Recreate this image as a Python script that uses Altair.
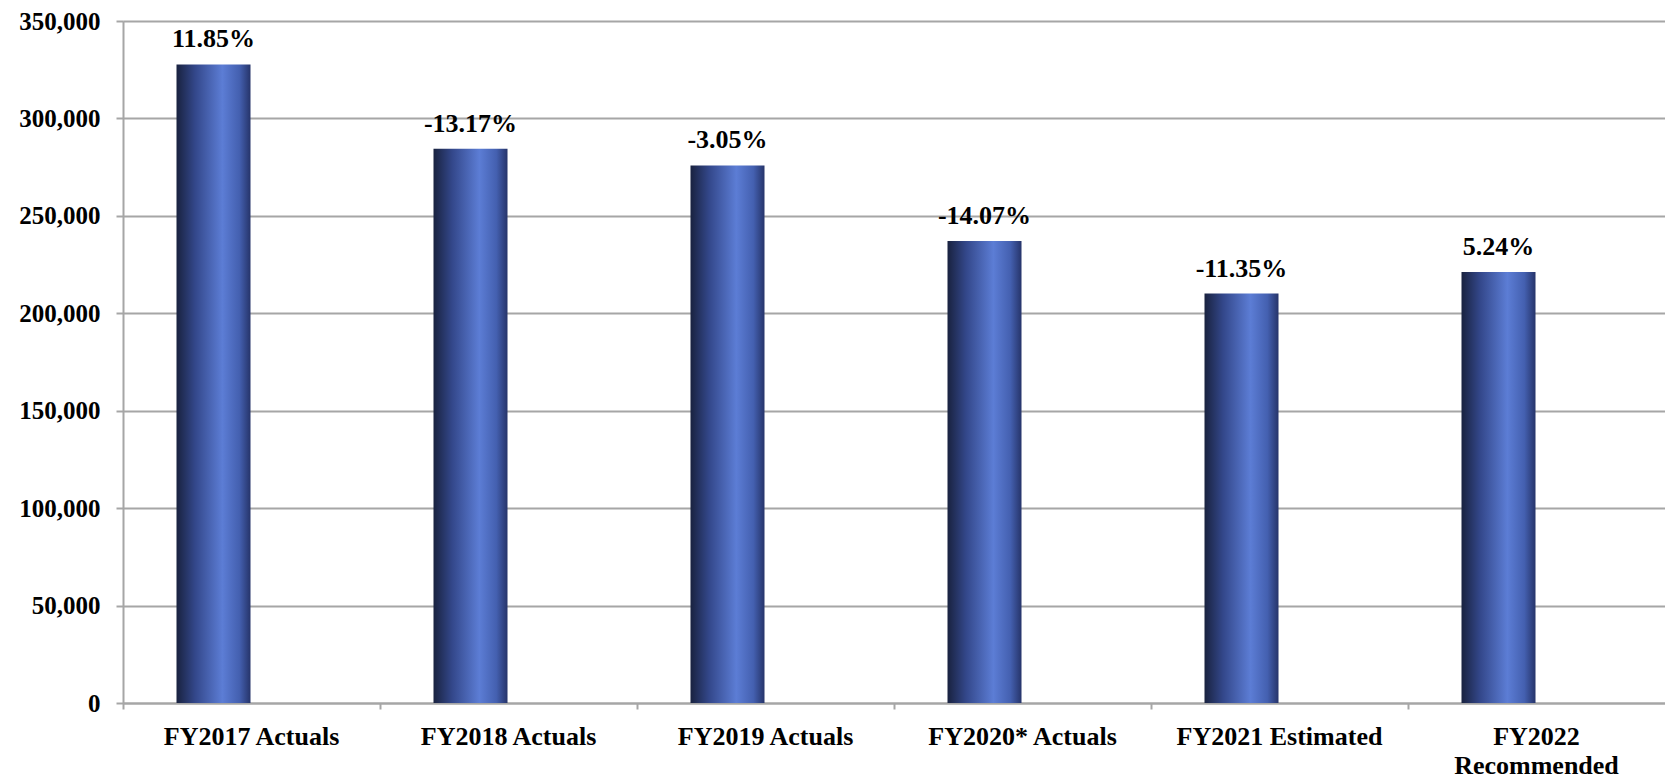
import altair as alt
import pandas as pd

categories = ["FY2017 Actuals", "FY2018 Actuals", "FY2019 Actuals",
              "FY2020* Actuals", "FY2021 Estimated", "FY2022 Recommended"]
values = [327700, 284500, 275900, 237050, 210150, 221150]
pct_labels = ["11.85%", "-13.17%", "-3.05%", "-14.07%", "-11.35%", "5.24%"]
y_ticks = [0, 50000, 100000, 150000, 200000, 250000, 300000, 350000]

df = pd.DataFrame({"cat": categories, "val": values, "pct": pct_labels})

W = 1542
H = 682
FONT = "Liberation Serif"
GRID = "#a6a6a6"

grad = alt.Gradient(
    gradient="linear", x1=0, x2=1, y1=0, y2=0,
    stops=[
        alt.GradientStop(offset=0.0, color="#19223f"),
        alt.GradientStop(offset=0.25, color="#33478a"),
        alt.GradientStop(offset=0.62, color="#5c7dd5"),
        alt.GradientStop(offset=0.85, color="#4460b0"),
        alt.GradientStop(offset=1.0, color="#26346a"),
    ],
)

x_enc = alt.X(
    "cat:N", sort=categories, title=None,
    scale=alt.Scale(paddingInner=0, paddingOuter=0),
    axis=alt.Axis(
        bandPosition=0, labelAngle=0, labelLimit=0,
        labelFont=FONT, labelFontSize=26, labelFontWeight="bold", labelColor="#000000",
        labelBaseline="top", labelLineHeight=29, labelPadding=14,
        labelExpr="datum.label == 'FY2022 Recommended' ? ['FY2022', 'Recommended'] : datum.label",
        ticks=True, tickSize=6, tickColor=GRID, tickWidth=2,
        domainColor=GRID, domainWidth=2, grid=False,
    ),
)
y_enc = alt.Y(
    "val:Q", title=None,
    scale=alt.Scale(domain=[0, 350000], nice=False),
    axis=alt.Axis(
        values=y_ticks, format=",d",
        labelFont=FONT, labelFontSize=25, labelFontWeight="bold", labelColor="#000000",
        labelPadding=16, tickSize=7, tickColor=GRID, tickWidth=2,
        domainColor=GRID, domainWidth=2,
        grid=True, gridColor=GRID, gridWidth=2,
    ),
)

bars = alt.Chart(df).mark_bar(width=74, xOffset=-38, color=grad).encode(x=x_enc, y=y_enc)
labels = alt.Chart(df).mark_text(
    xOffset=-38, dy=-17, baseline="alphabetic", align="center",
    font=FONT, fontSize=26, fontWeight="bold", color="#000000",
).encode(x=alt.X("cat:N", sort=categories), y="val:Q", text="pct:N")

chart = (bars + labels).properties(
    width=W, height=H,
    autosize=alt.AutoSizeParams(type="none"),
    padding={"left": 115, "top": 13, "right": 0, "bottom": 80},
).configure_view(stroke=None).configure(background="#ffffff")

chart.save("out.html", embed_options={"renderer": "svg", "actions": False})
